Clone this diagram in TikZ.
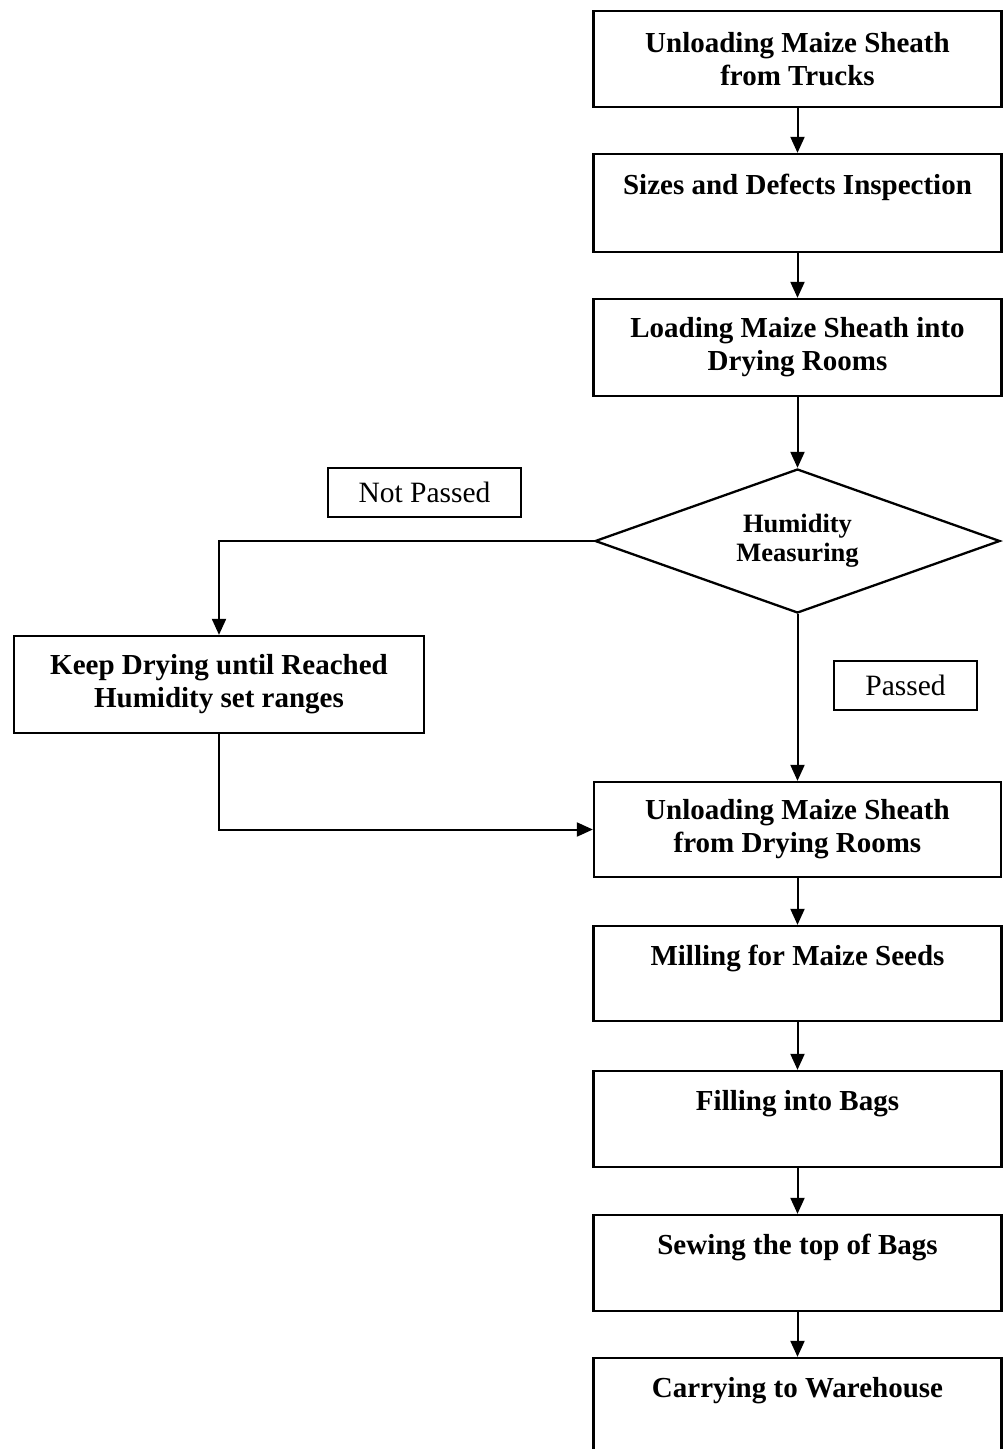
\documentclass[tikz,border=0pt]{standalone}
\usepackage{fontspec}
\setmainfont{Liberation Serif}
\usetikzlibrary{arrows.meta,shapes.geometric}
\begin{document}
\begin{tikzpicture}[x=1pt,y=-1pt,
  procbox/.style={draw=black, line width=2.3pt, rectangle, inner sep=0pt, align=center,
     minimum width=408pt, minimum height=96pt,
     font=\bfseries\fontsize{29}{33}\selectfont},
  decbox/.style={draw=black, line width=2.3pt, diamond, inner sep=0pt, align=center,
     minimum width=405pt, minimum height=144pt, aspect=2.8,
     font=\bfseries\fontsize{26.5}{29}\selectfont},
  tagbox/.style={draw=black, line width=2pt, rectangle, inner sep=0pt,
     minimum height=49pt, font=\fontsize{29.5}{33}\selectfont},
  flow/.style={draw=black, line width=2pt, -{Triangle[length=16pt,width=14pt]}}]
\clip (0,0) rectangle (1003,1449);
\useasboundingbox (0,0) rectangle (1003,1449);
\fill[white] (0,0) rectangle (1003,1449);

\node[procbox] (b1) at (797.5,59) {Unloading Maize Sheath\\from Trucks};
\node[procbox, minimum height=98pt] (b2) at (797.5,203) {\rule{0pt}{26pt}Sizes and Defects Inspection\\\strut};
\node[procbox, minimum height=97pt] (b3) at (797.5,347.5) {Loading Maize Sheath into\\Drying Rooms};
\node[decbox] (dec) at (797.5,541) {Humidity\\Measuring};
\node[tagbox, minimum width=193pt] (np) at (424.5,492.5) {Not Passed};
\node[procbox, minimum width=410pt, minimum height=97pt] (keep) at (219,684.5) {Keep Drying until Reached\\Humidity set ranges};
\node[tagbox, minimum width=143pt] (ps) at (905.5,685.5) {Passed};
\node[procbox, minimum width=407pt, minimum height=95pt] (b4) at (797.5,829.5) {Unloading Maize Sheath\\from Drying Rooms};
\node[procbox, minimum height=95pt] (b5) at (797.5,973.5) {\rule{0pt}{26pt}Milling for Maize Seeds\\\strut};
\node[procbox] (b6) at (797.5,1119) {\rule{0pt}{26pt}Filling into Bags\\\strut};
\node[procbox] (b7) at (797.5,1263) {\rule{0pt}{26pt}Sewing the top of Bags\\\strut};
\node[procbox] (b8) at (797.5,1406) {\rule{0pt}{26pt}Carrying to Warehouse\\\strut};

\draw[flow] (b1.south) -- (b2.north);
\draw[flow] (b2.south) -- (b3.north);
\draw[flow] (b3.south) -- (dec.north);
\draw[flow] (dec.west) -| (keep.north);
\draw[flow] (dec.south) -- (b4.north);
\draw[flow] (keep.south) |- (b4.west);
\draw[flow] (b4.south) -- (b5.north);
\draw[flow] (b5.south) -- (b6.north);
\draw[flow] (b6.south) -- (b7.north);
\draw[flow] (b7.south) -- (b8.north);
\end{tikzpicture}
\end{document}
